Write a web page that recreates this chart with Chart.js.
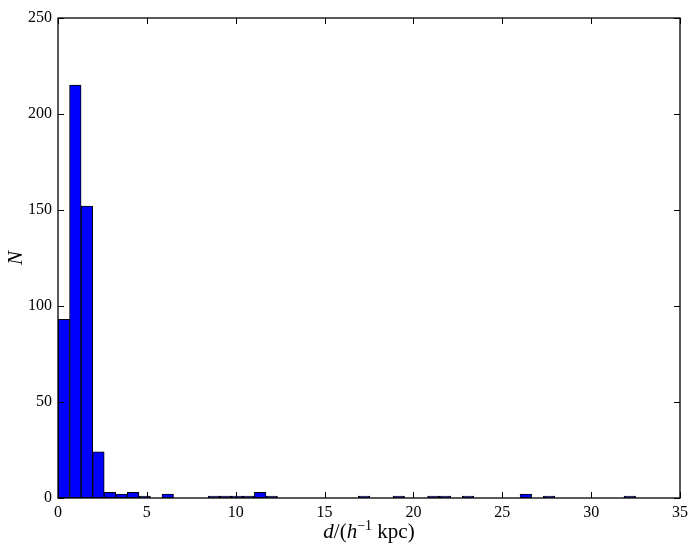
<!DOCTYPE html>
<html>
<head>
<meta charset="utf-8">
<script src="https://cdn.jsdelivr.net/npm/chart.js@4.4.1/dist/chart.umd.min.js"></script>
<style>
  body { margin: 0; background: #fff; }
  #chart { display: block; }
</style>
</head>
<body>
<canvas id="chart" width="689" height="545"></canvas>
<script>
// histogram of distances, 50 bins of ~0.65 h^-1 kpc starting at 0
const binStart = 0;
const binWidth = 0.65;
const counts = [
  93, 215, 152, 24, 3, 2, 3, 1, 0, 2,
  0, 0, 0, 1, 1, 1, 1, 3, 1, 0,
  0, 0, 0, 0, 0, 0, 1, 0, 0, 1,
  0, 0, 1, 1, 0, 1, 0, 0, 0, 0,
  2, 0, 1, 0, 0, 0, 0, 0, 0, 1
];
const xTicks = [0, 5, 10, 15, 20, 25, 30, 35];
const yTicks = [0, 50, 100, 150, 200, 250];

const serif = "'Liberation Serif', 'DejaVu Serif', serif";

const binCenters = counts.map((c, i) => binStart + (i + 0.5) * binWidth);
const points = counts.map((c, i) => ({ x: binCenters[i], y: c }));

// frame, inward ticks on all four sides and the axis titles
const framePlugin = {
  id: "frame",
  afterDatasetsDraw(chart) {
    const ctx = chart.ctx;
    const area = chart.chartArea;
    const xs = chart.scales.x;
    const ys = chart.scales.y;
    const tick = 6;
    ctx.save();
    ctx.strokeStyle = "#000";
    ctx.lineWidth = 1;
    ctx.beginPath();
    xTicks.forEach(v => {
      const px = Math.round(xs.getPixelForValue(v)) + 0.5;
      ctx.moveTo(px, area.bottom);
      ctx.lineTo(px, area.bottom - tick);
      ctx.moveTo(px, area.top);
      ctx.lineTo(px, area.top + tick);
    });
    yTicks.forEach(v => {
      const py = Math.round(ys.getPixelForValue(v)) + 0.5;
      ctx.moveTo(area.left, py);
      ctx.lineTo(area.left + tick, py);
      ctx.moveTo(area.right, py);
      ctx.lineTo(area.right - tick, py);
    });
    ctx.stroke();
    ctx.lineWidth = 1.3;
    ctx.strokeRect(area.left, area.top, area.right - area.left, area.bottom - area.top);

    // x title: d/(h^-1 kpc)
    const runs = [
      { t: "d", f: "italic 21px " + serif, dy: 0 },
      { t: "/(", f: "21px " + serif, dy: 0 },
      { t: "h", f: "italic 21px " + serif, dy: 0 },
      { t: "\u22121", f: "14px " + serif, dy: -8 },
      { t: " kpc)", f: "21px " + serif, dy: 0 }
    ];
    let total = 0;
    runs.forEach(r => { ctx.font = r.f; r.w = ctx.measureText(r.t).width; total += r.w; });
    let x = (area.left + area.right) / 2 - total / 2;
    const base = 538;
    ctx.fillStyle = "#000";
    ctx.textBaseline = "alphabetic";
    ctx.textAlign = "left";
    runs.forEach(r => {
      ctx.font = r.f;
      ctx.fillText(r.t, x, base + r.dy);
      x += r.w;
    });

    // y title: N
    ctx.translate(22, (area.top + area.bottom) / 2);
    ctx.rotate(-Math.PI / 2);
    ctx.font = "italic 21px " + serif;
    ctx.textAlign = "center";
    ctx.fillText("N", 0, 0);
    ctx.restore();
  }
};

new Chart(document.getElementById("chart").getContext("2d"), {
  type: "bar",
  data: {
    datasets: [{
      data: points,
      backgroundColor: "#0000ff",
      borderColor: "#000000",
      borderWidth: 1,
      borderSkipped: false,
      barPercentage: 1,
      categoryPercentage: 1
    }]
  },
  options: {
    responsive: false,
    animation: false,
    layout: { padding: { left: 0, right: 9, top: 18, bottom: 0 } },
    plugins: { legend: { display: false }, tooltip: { enabled: false } },
    scales: {
      x: {
        type: "linear",
        min: 0,
        max: 35,
        offset: false,
        grid: { display: false, drawTicks: false },
        border: { display: false },
        afterBuildTicks: s => { s.ticks = xTicks.map(v => ({ value: v })); },
        afterFit: s => { s.height = 47; s.paddingLeft = 0; s.paddingRight = 0; },
        ticks: { color: "#000", padding: 5, maxRotation: 0, font: { family: serif, size: 16 } }
      },
      y: {
        min: 0,
        max: 250,
        grid: { display: false, drawTicks: false },
        border: { display: false },
        afterBuildTicks: s => { s.ticks = yTicks.map(v => ({ value: v })); },
        afterFit: s => { s.width = 58; s.paddingTop = 0; s.paddingBottom = 0; },
        ticks: { color: "#000", padding: 6, font: { family: serif, size: 16 } }
      }
    }
  },
  plugins: [framePlugin]
});
</script>
</body>
</html>
